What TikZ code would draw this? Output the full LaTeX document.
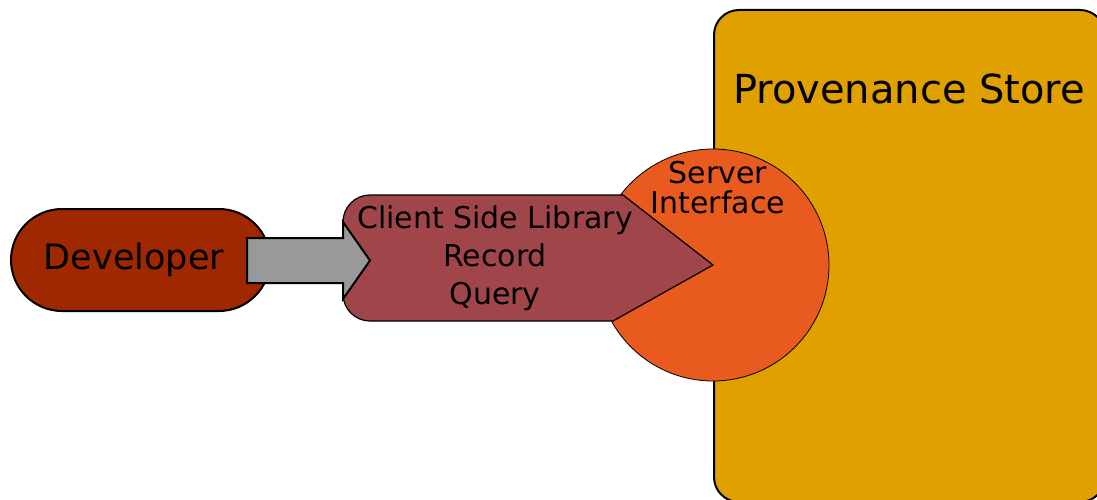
\documentclass[tikz,border=0pt]{standalone}
\usepackage{fontspec}
\setmainfont{DejaVu Sans}
\usepackage{tikz}
\usetikzlibrary{shapes.misc}

\definecolor{devred}{HTML}{A02800}
\definecolor{libred}{HTML}{A0464A}
\definecolor{srvorange}{HTML}{E85A1E}
\definecolor{storegold}{HTML}{E0A000}
\definecolor{arrgray}{HTML}{999999}

\tikzset{
    devbox/.style={draw, line width=2pt, fill=devred, rounded rectangle,
        minimum width=259pt, minimum height=102pt, inner sep=0pt,
        font=\fontsize{35pt}{40pt}\selectfont},
    srvdisc/.style={draw, line width=0.8pt, fill=srvorange, circle,
        minimum size=232pt, inner sep=0pt},
    txt/.style={align=center, inner sep=0pt},
}

\begin{document}
\begin{tikzpicture}[x=1pt, y=-1pt]
    \useasboundingbox (0, 0) rectangle (1097, 500);
    \clip (0, 0) rectangle (1097, 500);
    % store
    \draw[line width=2pt, fill=storegold, rounded corners=25pt] (714, 10) rectangle (1105, 502);
    \node[txt, font=\fontsize{40pt}{44pt}\selectfont] (store) at (909, 89) {Provenance Store};
    % server interface
    \node[srvdisc] (srv) at (713, 265) {};
    \node[txt, font=\fontsize{30pt}{30pt}\selectfont] (srvtxt) at (718, 188) {Server\\Interface};
    % client side library
    \coordinate (libtip) at (srv.center);
    \draw[line width=1.2pt, fill=libred] (libtip) -- (623, 195) -- (370, 195)
        arc[start angle=270, end angle=180, radius=27] -- (343, 294)
        arc[start angle=180, end angle=90, radius=27] -- (613, 321) -- cycle;
    \node[txt, font=\fontsize{30pt}{38pt}\selectfont] (lib) at (495, 258.5) {Client Side Library\\Record\\Query};
    % developer
    \node[devbox] (dev) at (140.5, 260) {Developer\hspace*{13pt}};
    % arrow
    \coordinate (arrtail) at (247, 260.5);
    \draw[line width=2pt, fill=arrgray] (arrtail) ++(0, -22.5) -- ++(96, 0) -- ++(0, -16)
        -- ++(27, 38.5) -- ++(-27, 38.5) -- ++(0, -16) -- ++(-96, 0) -- cycle;
\end{tikzpicture}
\end{document}
